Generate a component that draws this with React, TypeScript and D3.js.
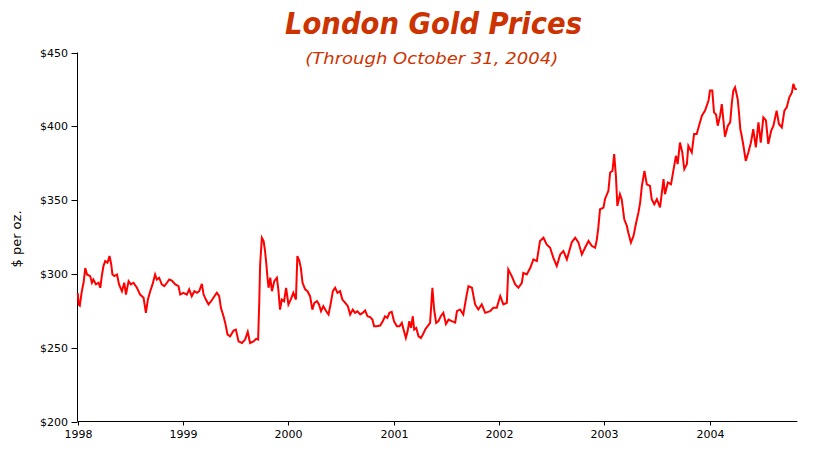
import React from "react";
import * as d3 from "d3";

const dates: string[] = [
  "1998-01-02","1998-01-05","1998-01-09","1998-01-16","1998-01-22","1998-01-28","1998-02-03","1998-02-14","1998-02-20","1998-02-25",
  "1998-03-06","1998-03-15","1998-03-21","1998-03-27","1998-04-01","1998-04-07","1998-04-15","1998-04-22","1998-04-28","1998-05-02",
  "1998-05-09","1998-05-18","1998-05-25","1998-06-04","1998-06-12","1998-06-18","1998-06-27","1998-07-05","1998-07-14","1998-07-26",
  "1998-08-06","1998-08-18","1998-08-26","1998-09-02","1998-09-10","1998-09-18","1998-09-27","1998-10-03","1998-10-11","1998-10-20",
  "1998-10-29","1998-11-07","1998-11-15","1998-11-24","1998-12-06","1998-12-17","1998-12-23",
  "1999-01-03","1999-01-15","1999-01-23","1999-02-01","1999-02-10","1999-02-19","1999-02-27","1999-03-08","1999-03-14","1999-03-22",
  "1999-03-31","1999-04-09","1999-04-17","1999-04-29","1999-05-07","1999-05-13","1999-05-22","1999-05-28","1999-06-05","1999-06-14",
  "1999-06-26","1999-07-04","1999-07-13","1999-07-25","1999-08-05","1999-08-14","1999-08-22","1999-09-03","1999-09-12","1999-09-19",
  "1999-09-23","1999-09-26","1999-10-02","1999-10-08","1999-10-13","1999-10-17","1999-10-21","1999-10-25","1999-10-31","1999-11-06",
  "1999-11-14","1999-11-23","1999-11-28","1999-12-04","1999-12-10","1999-12-18","1999-12-25",
  "2000-01-02","2000-01-10","2000-01-19","2000-01-28","2000-02-02","2000-02-09","2000-02-14","2000-02-20","2000-02-29","2000-03-08",
  "2000-03-17","2000-03-25","2000-04-01","2000-04-10","2000-04-17","2000-04-24","2000-05-02","2000-05-12","2000-05-20","2000-05-28",
  "2000-06-04","2000-06-12","2000-06-20","2000-06-29","2000-07-07","2000-07-17","2000-07-26","2000-08-03","2000-08-12","2000-08-20",
  "2000-08-28","2000-09-07","2000-09-15","2000-09-24","2000-10-02","2000-10-11","2000-10-19","2000-10-25","2000-11-03","2000-11-15",
  "2000-11-24","2000-12-02","2000-12-10","2000-12-17","2000-12-25",
  "2001-01-02","2001-01-12","2001-01-21","2001-01-29","2001-02-04","2001-02-12","2001-02-18","2001-02-24","2001-03-02","2001-03-08",
  "2001-03-13","2001-03-20","2001-03-28","2001-04-05","2001-04-12","2001-04-20","2001-04-28","2001-05-07","2001-05-15","2001-05-21",
  "2001-05-28","2001-06-05","2001-06-13","2001-06-22","2001-07-01","2001-07-10","2001-07-21","2001-08-02","2001-08-08","2001-08-19",
  "2001-08-30","2001-09-11","2001-09-17","2001-09-29","2001-10-10","2001-10-21","2001-11-02","2001-11-14","2001-12-01","2001-12-12",
  "2001-12-24",
  "2002-01-05","2002-01-16","2002-01-28","2002-02-02","2002-02-14","2002-02-26","2002-03-09","2002-03-21","2002-03-26","2002-04-07",
  "2002-04-19","2002-04-30","2002-05-12","2002-05-23","2002-06-04","2002-06-15","2002-06-27","2002-07-08","2002-07-20","2002-08-01",
  "2002-08-12","2002-08-24","2002-09-10","2002-09-22","2002-10-03","2002-10-15","2002-10-26","2002-11-07","2002-11-18","2002-11-30",
  "2002-12-06","2002-12-11","2002-12-17","2002-12-29",
  "2003-01-03","2003-01-15","2003-01-21","2003-01-29","2003-02-04","2003-02-10","2003-02-15","2003-02-24","2003-03-02","2003-03-11",
  "2003-03-20","2003-03-25","2003-04-03","2003-04-12","2003-04-20","2003-04-29","2003-05-05","2003-05-11","2003-05-20","2003-05-28",
  "2003-06-08","2003-06-14","2003-06-23","2003-07-02","2003-07-13","2003-07-25","2003-07-30","2003-08-09","2003-08-20","2003-08-28",
  "2003-09-06","2003-09-12","2003-09-20","2003-09-28","2003-10-05","2003-10-14","2003-10-19","2003-10-31","2003-11-08","2003-11-17",
  "2003-11-25","2003-12-05","2003-12-16","2003-12-28",
  "2004-01-02","2004-01-10","2004-01-16","2004-01-23","2004-01-29","2004-02-06","2004-02-12","2004-02-17","2004-02-23","2004-03-04",
  "2004-03-12","2004-03-18","2004-03-23","2004-03-29","2004-04-07","2004-04-12","2004-04-16","2004-04-21","2004-04-27","2004-05-05",
  "2004-05-14","2004-05-23","2004-05-31","2004-06-09","2004-06-18","2004-06-26","2004-07-05","2004-07-14","2004-07-22","2004-08-01",
  "2004-08-09","2004-08-20","2004-08-28","2004-09-07","2004-09-16","2004-09-24","2004-10-03","2004-10-12","2004-10-17","2004-10-23",
  "2004-10-29"
];

const prices: number[] = [
  287,279.3,278.5,288.3,294,304,299.6,298.5,294,296.2,
  292.9,294,290.6,299.6,305.3,308.7,307.6,312.1,306.4,299.6,
  298.5,299.6,292.9,288.3,294,286,295.1,292.9,294,290.6,
  286,283.8,273.6,282.6,288.3,292.9,299.6,296.2,297.4,292.9,
  291.7,294,296.2,295.5,292.9,291.7,286,
  287.2,286,289.5,284.9,288.3,287.2,288.3,293.3,286,282.6,
  279.3,281.5,283.8,287.2,284.9,277,271.3,266.8,258.9,257.7,
  261.6,262.3,254.3,253.2,255.5,260.7,253.2,254.3,256,255.5,
  281.5,306.4,324.5,322.3,315.5,307.6,298.5,290.6,297.4,288.3,
  295.1,297.4,289.5,275.8,282.6,281.5,290.6,
  279.3,282.6,287.2,282.6,312.1,308.7,304.1,294,289.5,288.3,
  284.9,275.8,280.4,281.5,279.3,274.7,278.1,274.7,272.5,280.4,
  288.3,290.6,287.2,288.3,282.6,280.4,278.1,272.5,275.8,273.6,
  274.7,272.5,273.6,275.2,271.3,270.7,269.1,264.5,264.5,265,
  267.9,271.3,270.2,273.6,274.3,
  267.9,264.5,264.5,266.8,262.3,256.6,261.1,267.9,263.4,271.3,
  262.3,263.4,257.7,256.6,258.9,262.3,264.5,266.8,290.6,275.8,
  266.8,268,271.3,273.6,266,269,268,267,274.7,275.9,
  272.5,286,291.7,290.6,279.3,275.9,279.3,273.6,274.7,277,
  277,
  285,279.3,280.4,303,298.5,292.9,290.6,294,300.7,299.6,
  304,309.8,308.7,322.3,324.5,320,317.7,311,305.3,313.2,
  315.5,309.8,321.4,324.5,321.4,313.2,317.7,322.3,319,317.7,
  323.4,331.3,343.8,344.9,
  350.6,356.3,368.7,369.8,381.2,366.4,346,354,350.6,337,
  332.5,327.9,321.2,325.7,333.6,341.5,348.3,359.6,369.8,360.7,
  359.6,350.6,347.2,350.6,345,364.2,354,361.9,360.8,369.8,
  380,374.4,389,382.3,371,374.4,386.8,382.3,394.8,394.8,
  400.4,407.2,410.6,417.4,
  424.2,424.2,409.4,408,400.4,407.2,415,405,393,400.4,
  402.7,416.3,424.2,426.4,418.5,408.3,398.1,393.6,386.8,376.6,
  382.3,389,398,385.7,402.7,389,406,404,388,397,
  400.4,410.6,401.6,399.3,410.6,412.9,419.6,423,428.7,425.3,
  425
];

const yTicks: number[] = [200, 250, 300, 350, 400, 450];
const xTickYears: number[] = [1998, 1999, 2000, 2001, 2002, 2003, 2004];
const domainStart = "1998-01-01";
const domainEnd = "2004-10-31";
const titleText = "London Gold Prices";
const subtitleText = "(Through October 31, 2004)";
const yLabelText = "$ per oz.";

export default function App() {
  const W = 817;
  const H = 452;
  const left = 77.5;
  const right = 797.4;
  const top = 52.5;
  const bottom = 421.5;
  const parse = d3.timeParse("%Y-%m-%d");
  const data = dates.map((d, i) => ({ date: parse(d) as Date, v: prices[i] }));
  const x = d3
    .scaleTime()
    .domain([parse(domainStart) as Date, parse(domainEnd) as Date])
    .range([left, right]);
  const y = d3.scaleLinear().domain([200, 450]).range([bottom, top]);
  const line = d3
    .line<{ date: Date; v: number }>()
    .x((d) => x(d.date))
    .y((d) => y(d.v));
  const red = "#CC3300";
  const font = "'DejaVu Sans', Verdana, sans-serif";

  return (
    <div style={{ position: "fixed", left: 0, top: 0, width: W, height: H, background: "#fff" }}>
      <svg width={W} height={H} style={{ display: "block" }}>
        <rect x={0} y={0} width={W} height={H} fill="#fff" />
        <text
          x={433.5}
          y={34.3}
          textAnchor="middle"
          fontFamily="'DejaVu Sans Condensed', 'DejaVu Sans', sans-serif"
          fontWeight="bold"
          fontStyle="italic"
          fontSize={31}
          fill={red}
          textLength={297}
          lengthAdjust="spacingAndGlyphs"
        >
          {titleText}
        </text>
        <text
          x={431.7}
          y={64.3}
          textAnchor="middle"
          fontFamily={font}
          fontStyle="italic"
          fontSize={16.5}
          fill={red}
          textLength={253}
          lengthAdjust="spacingAndGlyphs"
        >
          {subtitleText}
        </text>
        <text
          transform={`translate(21,239) rotate(-90)`}
          textAnchor="middle"
          fontFamily={font}
          fontSize={13}
          fill="#000"
        >
          {yLabelText}
        </text>

        <line x1={left} x2={left} y1={top} y2={bottom} stroke="#000" strokeWidth={1} />
        <line x1={left} x2={right} y1={bottom} y2={bottom} stroke="#000" strokeWidth={1} />
        {yTicks.map((t) => (
          <g key={t}>
            <line x1={left - 6} x2={left} y1={Math.round(y(t)) + 0.5 - (y(t) % 1 === 0.5 ? 0 : 0)} y2={Math.round(y(t)) + 0.5 - (y(t) % 1 === 0.5 ? 0 : 0)} stroke="#000" />
            <text
              x={left - 9.5}
              y={y(t) + 4}
              textAnchor="end"
              fontFamily={font}
              fontSize={11}
              fill="#000"
            >
              {`$${t}`}
            </text>
          </g>
        ))}
        {xTickYears.map((yr) => {
          const xx = Math.round(x(new Date(yr, 0, 1))) + 0.5;
          return (
            <g key={yr}>
              <line x1={xx} x2={xx} y1={bottom} y2={bottom + 4} stroke="#000" />
              <text
                x={xx}
                y={438}
                textAnchor="middle"
                fontFamily={font}
                fontSize={11}
                fill="#000"
              >
                {String(yr)}
              </text>
            </g>
          );
        })}
        <path d={line(data) || ""} fill="none" stroke="#FF0000" strokeWidth={2} strokeLinejoin="miter" />
      </svg>
    </div>
  );
}
